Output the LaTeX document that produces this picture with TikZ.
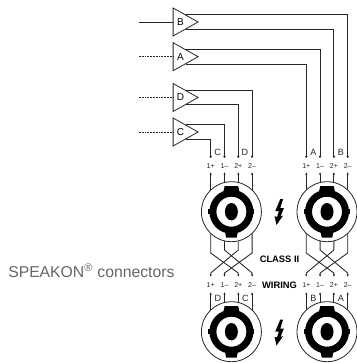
\documentclass[tikz,border=0pt]{standalone}
\usepackage{fontspec}
\setmainfont{Liberation Sans}
\usetikzlibrary{shapes.geometric,arrows.meta}
\definecolor{inkgrey}{gray}{0.15}
\tikzset{
	wire/.style={line width=.65pt, draw=inkgrey},
	feed/.style={wire, dash pattern=on 1.4pt off .7pt},
	pinin/.style={wire, -{Latex[length=2pt,width=1.7pt]}},
	pinout/.style={wire, -{Circle[length=1.6pt,width=1.6pt]}},
	amp/.style={draw=inkgrey, line width=.6pt, fill=white, shape=isosceles triangle, isosceles triangle stretches, minimum height=18.75pt, minimum width=21pt, inner sep=0pt, anchor=lower side, font=\fontsize{7.5}{8}\selectfont},
	ring/.style={draw=inkgrey, line width=.6pt, fill=white, shape=circle, minimum size=45pt, inner sep=0pt},
	pinlabel/.style={inkgrey, inner sep=0pt, font=\fontsize{5.3}{6}\selectfont},
	letter/.style={inkgrey, inner sep=0pt, font=\fontsize{6.8}{7}\selectfont},
	wiring/.style={black, inner sep=0pt, font=\fontsize{7}{8}\selectfont\bfseries},
	speakon/.pic={
		\fill[even odd rule] (0,0) circle (22) (0,0) circle (15);
		\fill (0,0) ellipse (6.5 and 8.7);
		\fill (-6.8,-25.5) -- (6.8,-25.5) -- (8,-20) -- (-8,-20) -- cycle;
		\fill (-5.2,26) -- (5.2,26) -- (6.5,20) -- (-6.5,20) -- cycle;
		\fill (-23,-2.5) rectangle (-20,2.5);
		\fill (23,-2.5) rectangle (20,2.5);
	},
	bolt/.pic={
		\fill (3.6,-13) -- (.8,-13) -- (-4.2,-1) -- (-.5,-1) -- (-2.6,5) -- (-5,4.2) -- (-3,13) -- (3.6,3.6) -- (1,4.6) -- (4.4,-4) -- (.8,-4) -- cycle;
	}
}
\begin{document}
\begin{tikzpicture}[x=.75pt, y=-.75pt]
	\useasboundingbox (0,0) rectangle (356,363);

	\foreach \conn/\cx/\cy in {topL/231.4/211.7, topR/327/211.7, botL/231.4/331.7, botR/327/331.7}{
		\coordinate (\conn) at (\cx,\cy);
		\foreach \pin/\dx in {1/-20.7, 2/-6.9, 3/6.9, 4/20.7}
			\coordinate (\conn\pin) at (\cx+\dx,\cy);
	}
	\coordinate (outrow) at (0,157.7);
	\coordinate (inrow) at (0,172);
	\coordinate (bendouter) at (0,253);
	\coordinate (bendinner) at (0,250);
	\coordinate (slopeend) at (0,273);
	\coordinate (stubend) at (0,277);
	\coordinate (botrow) at (0,292);

	\node[amp] (ampB) at (172.7,22) {B};
	\node[amp] (ampA) at (172.7,56.7) {A};
	\node[amp] (ampD) at (172.7,97.5) {D};
	\node[amp] (ampC) at (172.7,132) {C};

	\coordinate (inB) at (139,22);
	\coordinate (inA) at (139,56.7);
	\coordinate (inD) at (139,97.5);
	\coordinate (inC) at (139,132);
	\draw[wire] (inB) -- (ampB.lower side);
	\draw[feed] (inA) -- (ampA.lower side);
	\draw[feed] (inD) -- (ampD.lower side);
	\draw[feed] (inC) -- (ampC.lower side);

	\draw[pinout] (ampB.left side) -| (topR4 |- outrow);
	\draw[pinout] (ampB.right side) -| (topR3 |- outrow);
	\draw[pinout] (ampA.left side) -| (topR2 |- outrow);
	\draw[pinout] (ampA.right side) -| (topR1 |- outrow);
	\draw[pinout] (ampD.left side) -| (topL4 |- outrow);
	\draw[pinout] (ampD.right side) -| (topL3 |- outrow);
	\draw[pinout] (ampC.left side) -| (topL2 |- outrow);
	\draw[pinout] (ampC.right side) -| (topL1 |- outrow);

	\foreach \conn in {topL,topR}{
		\foreach \pin/\txt in {1/1+, 2/1--, 3/2+, 4/2--}{
			\draw[pinin] (\conn\pin) -- (\conn\pin |- inrow);
			\node[pinlabel] (\conn label\pin) at ([yshift=4.7pt]\conn\pin |- inrow) {\txt};
		}
		\draw[pinin] (\conn1) -- (\conn1 |- bendouter) -- (\conn3 |- slopeend) -- (\conn3 |- stubend);
		\draw[pinin] (\conn2) -- (\conn2 |- bendinner) -- (\conn4 |- slopeend) -- (\conn4 |- stubend);
		\draw[pinin] (\conn3) -- (\conn3 |- bendinner) -- (\conn1 |- slopeend) -- (\conn1 |- stubend);
		\draw[pinin] (\conn4) -- (\conn4 |- bendouter) -- (\conn2 |- slopeend) -- (\conn2 |- stubend);
	}
	\foreach \conn in {botL,botR}{
		\foreach \pin/\txt in {1/1+, 2/1--, 3/2+, 4/2--}{
			\draw[pinin] (\conn\pin) -- (\conn\pin |- botrow);
			\node[pinlabel] (\conn label\pin) at ([yshift=5.2pt]\conn\pin |- botrow) {\txt};
		}
	}

	\foreach \conn in {topL,topR,botL,botR}{
		\node[ring] (\conn ring) at (\conn) {};
		\pic at (\conn) {speakon};
	}
	\pic at (279.5,212) {bolt};
	\pic at (279.5,332.5) {bolt};

	\node[letter] (tagC) at (217.7,152) {C};
	\node[letter] (tagD) at (245,152) {D};
	\node[letter] (tagA) at (313.3,152) {A};
	\node[letter] (tagB) at (341,152) {B};
	\node[letter] (tagD2) at (218,298) {D};
	\node[letter] (tagC2) at (245.5,298) {C};
	\node[letter] (tagB2) at (313.5,298) {B};
	\node[letter] (tagA2) at (341,298) {A};

	\node[wiring] (classii) at (279.5,259.5) {CLASS II};
	\node[wiring] (wiringlabel) at (279.5,285) {WIRING};
	\node[anchor=base west, inner sep=0pt, text=black!60, font=\fontsize{11.8}{12}\selectfont] (speakonlabel) at (8,277.7) {SPEAKON\textsuperscript{®} connectors};
\end{tikzpicture}
\end{document}
